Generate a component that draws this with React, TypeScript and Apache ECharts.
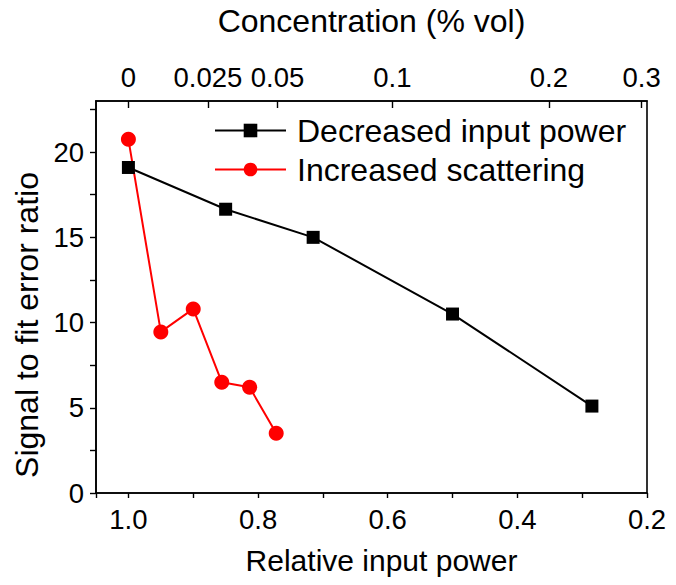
import React, { useEffect, useRef } from "react";
import * as echarts from "echarts";

// Bottom axis: relative input power; left axis: signal to fit error ratio
const decreasedPower = [1.0, 0.85, 0.715, 0.5, 0.285];
const decreasedRatio = [19.1, 16.65, 15.0, 10.5, 5.1];
const scatterPower = [1.0, 0.95, 0.9, 0.856, 0.813, 0.772];
const scatterRatio = [20.75, 9.45, 10.8, 6.5, 6.2, 3.5];

// Left axis ticks
const ratioLabels = [0, 5, 10, 15, 20];
const ratioTicks = [0, 2.5, 5, 7.5, 10, 12.5, 15, 17.5, 20, 22.5];

// Top axis: concentration ticks (% vol)
const concentrationTicks = [0, 0.025, 0.05, 0.1, 0.2, 0.3];
const concentrationLabels = ["0", "0.025", "0.05", "0.1", "0.2", "0.3"];
const attenuationK = 5.23; // relative power = exp(-k * concentration)

const FONT = "'Liberation Sans', Arial, Helvetica, sans-serif";

export default function App() {
  const ref = useRef<HTMLDivElement>(null);
  useEffect(() => {
    if (!ref.current) return;
    const chart = echarts.init(ref.current, undefined, { renderer: "svg" });
    const topPositions = concentrationTicks.map((c) => Math.exp(-attenuationK * c));
    const topLabel = (v: number) => {
      let best = 0;
      let bd = Infinity;
      topPositions.forEach((p, i) => {
        const d = Math.abs(p - v);
        if (d < bd) {
          bd = d;
          best = i;
        }
      });
      return concentrationLabels[best];
    };
    const axisLine = { show: true, lineStyle: { color: "#000", width: 1.6 } };
    const tickStyle = { color: "#000", width: 1.4 };
    chart.setOption({
      animation: false,
      backgroundColor: "#fff",
      textStyle: { fontFamily: FONT, color: "#000" },
      grid: {
        left: 96,
        right: 29,
        top: 97,
        bottom: 92,
        show: true,
        borderColor: "#000",
        borderWidth: 1.6,
        containLabel: false,
      },
      legend: {
        left: 214,
        top: 114,
        padding: 0,
        orient: "vertical",
        itemWidth: 71,
        itemHeight: 17,
        itemGap: 6,
        textStyle: {
          fontSize: 32,
          fontFamily: FONT,
          color: "#000",
          lineHeight: 33,
          padding: [0, 0, 0, 6],
        },
        data: ["Decreased input power", "Increased scattering"],
      },
      xAxis: [
        {
          type: "value",
          position: "bottom",
          min: 0.2,
          max: 1.05,
          interval: 0.2,
          inverse: true,
          name: "Relative input power",
          nameLocation: "middle",
          nameGap: 52,
          nameTextStyle: { fontSize: 30, fontFamily: FONT, color: "#000", padding: [0, 0, 0, 20] },
          axisLine,
          axisTick: { show: true, inside: false, length: 5, lineStyle: tickStyle },
          minorTick: { show: true, splitNumber: 2, length: 5, lineStyle: tickStyle },
          axisLabel: {
            fontSize: 27.5,
            fontFamily: FONT,
            color: "#000",
            margin: 12,
            formatter: (v: number) => v.toFixed(1),
          },
          splitLine: { show: false },
        },
        {
          type: "value",
          position: "top",
          min: 0.2,
          max: 1.05,
          inverse: true,
          name: "Concentration (% vol)",
          nameLocation: "middle",
          nameGap: 64,
          nameTextStyle: { fontSize: 32, fontFamily: FONT, color: "#000" },
          axisLine,
          axisTick: {
            show: true,
            inside: true,
            length: 7,
            customValues: topPositions,
            lineStyle: tickStyle,
          },
          axisLabel: {
            fontSize: 27.5,
            fontFamily: FONT,
            color: "#000",
            margin: 10,
            customValues: topPositions,
            formatter: (v: number) => topLabel(v),
          },
          splitLine: { show: false },
        },
      ],
      yAxis: {
        type: "value",
        min: 0,
        max: 23,
        name: "Signal to fit error ratio",
        nameLocation: "middle",
        nameGap: 50,
        nameRotate: 90,
        nameTextStyle: { fontSize: 32, fontFamily: FONT, color: "#000", padding: [0, 56, 0, 0] },
        axisLine,
        axisTick: { show: true, inside: false, length: 6, customValues: ratioTicks, lineStyle: tickStyle },
        axisLabel: {
          fontSize: 27.5,
          fontFamily: FONT,
          color: "#000",
          margin: 12,
          customValues: ratioLabels,
        },
        splitLine: { show: false },
      },
      series: [
        {
          name: "Decreased input power",
          type: "line",
          xAxisIndex: 0,
          data: decreasedPower.map((p, i) => [p, decreasedRatio[i]]),
          symbol: "rect",
          symbolSize: 13,
          itemStyle: { color: "#000" },
          lineStyle: { color: "#000", width: 2 },
        },
        {
          name: "Increased scattering",
          type: "line",
          xAxisIndex: 0,
          data: scatterPower.map((p, i) => [p, scatterRatio[i]]),
          symbol: "circle",
          symbolSize: 15,
          itemStyle: { color: "#ff0000" },
          lineStyle: { color: "#ff0000", width: 2 },
        },
      ],
    });
    return () => chart.dispose();
  }, []);
  return <div ref={ref} style={{ width: 676, height: 585, margin: -8 }} />;
}
